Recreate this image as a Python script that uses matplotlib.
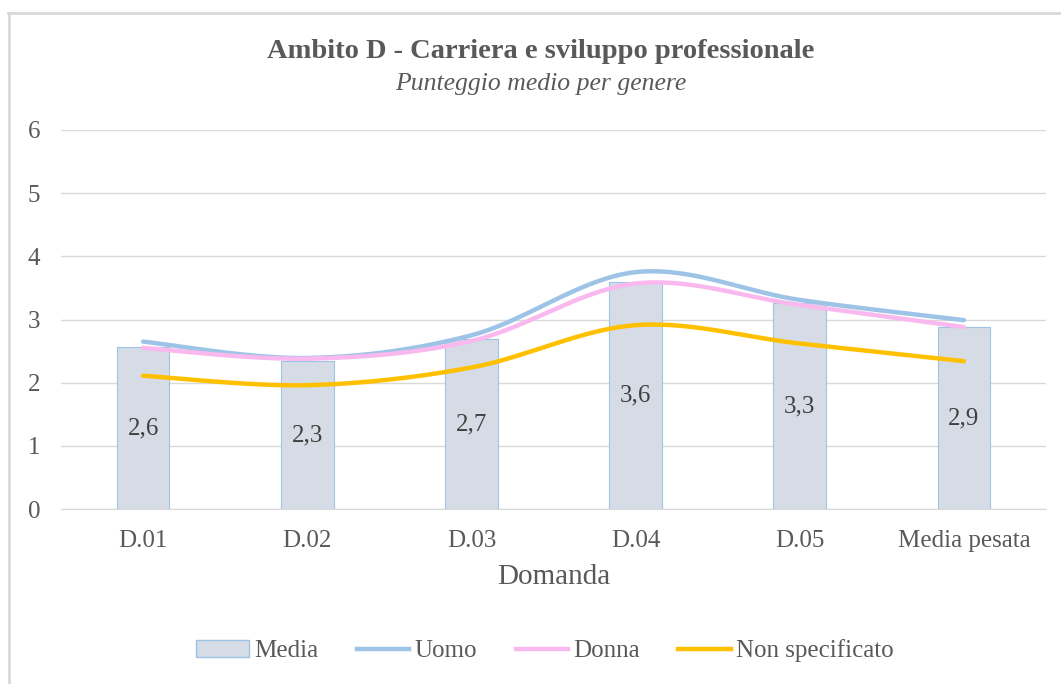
import numpy as np
import matplotlib
matplotlib.use("Agg")
import matplotlib.pyplot as plt
from matplotlib.patches import Patch
from matplotlib.lines import Line2D

categories = ["D.01", "D.02", "D.03", "D.04", "D.05", "Media pesata"]
media = [2.56, 2.34, 2.69, 3.59, 3.26, 2.88]
media_labels = ["2,6", "2,3", "2,7", "3,6", "3,3", "2,9"]
uomo = [2.65, 2.39, 2.75, 3.75, 3.31, 2.99]
donna = [2.55, 2.38, 2.66, 3.57, 3.23, 2.88]
non_spec = [2.11, 1.96, 2.24, 2.91, 2.62, 2.34]
yticks = [0, 1, 2, 3, 4, 5, 6]

TXT = "#595959"
FONT = ["Liberation Serif", "DejaVu Serif"]
plt.rcParams["font.family"] = FONT


def smooth(xs, ys, n=40):
    # Excel-like smoothed line: cubic Bezier with Catmull-Rom control points
    xs = np.asarray(xs, float)
    ys = np.asarray(ys, float)
    px, py = [], []
    m = len(xs)
    for i in range(m - 1):
        p0 = np.array([xs[max(i - 1, 0)], ys[max(i - 1, 0)]])
        p1 = np.array([xs[i], ys[i]])
        p2 = np.array([xs[i + 1], ys[i + 1]])
        p3 = np.array([xs[min(i + 2, m - 1)], ys[min(i + 2, m - 1)]])
        c1 = p1 + (p2 - p0) / 6.0
        c2 = p2 - (p3 - p1) / 6.0
        t = np.linspace(0, 1, n)[:, None]
        pts = ((1 - t) ** 3) * p1 + 3 * ((1 - t) ** 2) * t * c1 + 3 * (1 - t) * t ** 2 * c2 + t ** 3 * p2
        px.extend(pts[:, 0])
        py.extend(pts[:, 1])
    return np.array(px), np.array(py)


W, H = 1061, 684
fig = plt.figure(figsize=(W / 100, H / 100), dpi=100)
# chart border: only top and left visible
fig.lines.append(Line2D([9 / W, 9 / W], [0, 1 - 13 / H], transform=fig.transFigure,
                        color="#D9D9D9", linewidth=2))
fig.lines.append(Line2D([8 / W, 1060 / W], [1 - 13 / H, 1 - 13 / H], transform=fig.transFigure,
                        color="#D9D9D9", linewidth=2))

ax = fig.add_axes([61 / W, 1 - 509 / H, (1046 - 61) / W, (509 - 130) / H])
x = np.arange(len(categories))
ax.bar(x, media, width=0.32, color="#D6DCE5", edgecolor="#9DC3E6", linewidth=0.8, zorder=2)
for xi, v, lab in zip(x, media, media_labels):
    ax.text(xi, v / 2, lab, ha="center", va="center", fontsize=18, color="#404040", zorder=5)

for vals, col in [(uomo, "#9DC3E6"), (donna, "#F9B9EF"), (non_spec, "#FFC000")]:
    sx, sy = smooth(x, vals)
    ax.plot(sx, sy, color=col, linewidth=3.2, solid_capstyle="round", zorder=3)

ax.set_xlim(-0.5, len(categories) - 0.5)
ax.set_ylim(0, 6)
ax.set_yticks(yticks)
ax.set_xticks(x)
ax.set_xticklabels(categories)
ax.grid(axis="y", color="#D9D9D9", linewidth=1, zorder=0)
ax.set_axisbelow(True)
for s in ["top", "right", "left"]:
    ax.spines[s].set_visible(False)
ax.spines["bottom"].set_color("#D9D9D9")
ax.tick_params(axis="both", length=0, colors=TXT, labelsize=18)
ax.tick_params(axis="y", pad=15)
ax.tick_params(axis="x", pad=15)
ax.set_xlabel("Domanda", fontsize=21, color=TXT, labelpad=9)

fig.text(541 / W, 1 - 52 / H, "Ambito D - Carriera e sviluppo professionale",
         ha="center", va="center", fontsize=20.5, fontweight="bold", color=TXT)
fig.text(541 / W, 1 - 84 / H, "Punteggio medio per genere",
         ha="center", va="center", fontsize=18.5, style="italic", color=TXT)

handles = [Patch(facecolor="#D6DCE5", edgecolor="#9DC3E6", label="Media"),
           Line2D([], [], color="#9DC3E6", lw=3.2, label="Uomo"),
           Line2D([], [], color="#F9B9EF", lw=3.2, label="Donna"),
           Line2D([], [], color="#FFC000", lw=3.2, label="Non specificato")]
leg = fig.legend(handles=handles, loc="center", bbox_to_anchor=(545 / W, 1 - 651 / H),
                 ncol=4, frameon=False, fontsize=18, handlelength=2.1,
                 handletextpad=0.2, columnspacing=1.55)
for t in leg.get_texts():
    t.set_color(TXT)

fig.savefig("out.png", dpi=100)
